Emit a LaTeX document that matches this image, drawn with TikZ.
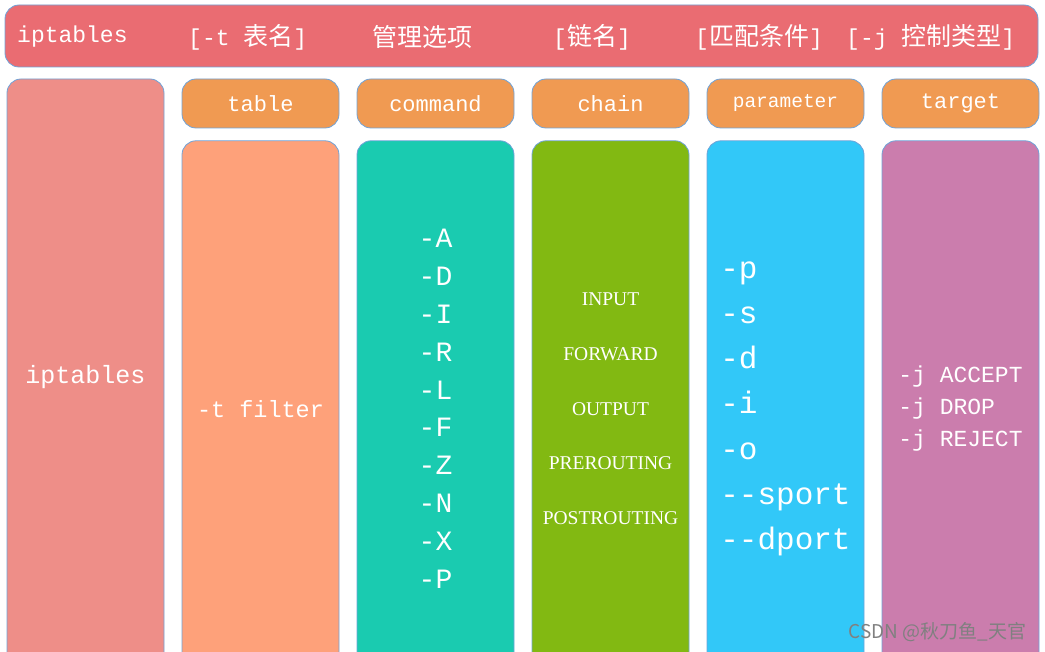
\documentclass[tikz,border=0pt]{standalone}
\usepackage{fontspec}
\setmainfont{Liberation Serif}
\setmonofont{Liberation Mono}
\newfontfamily\cjk{Noto Sans CJK SC}
\usetikzlibrary{positioning}
\definecolor{cEdge}{HTML}{6FA3D8}
\definecolor{cBar}{HTML}{EA6C72}
\definecolor{cRoot}{HTML}{EE8E88}
\definecolor{cHead}{HTML}{F09A52}
\definecolor{cTable}{HTML}{FEA17A}
\definecolor{cCmd}{HTML}{1ACBB0}
\definecolor{cChain}{HTML}{82B912}
\definecolor{cParam}{HTML}{32C8F8}
\definecolor{cTarget}{HTML}{CB7DAD}

\begin{document}
\begin{tikzpicture} [x=1pt,y=-1pt,node distance=17.2pt,
	box/.style={draw=cEdge,line width=0.8pt,rounded corners=14pt,minimum width=157pt,text=white,inner sep=0pt},
	pill/.style={box,fill=cHead,minimum height=49pt,font=\ttfamily\fontsize{22}{22}\selectfont},
	col/.style={box,minimum height=536pt,align=center,below=12pt of #1},
	bartext/.style={anchor=west,text=white,inner sep=0pt,font=\ttfamily\fontsize{23}{23}\selectfont}]
	\useasboundingbox (0,0) rectangle (1045,652);
	\clip (0,0) rectangle (1045,652);
	% top line
	\node[box, fill=cBar, minimum width=1033pt, minimum height=62pt] (bar) at (521.5,36) {};
	\node[bartext] (n1) at (17,37) {iptables};
	\node[bartext] (n2) at (188,37) {[-t {\cjk\fontsize{25}{25}\selectfont 表名}]};
	\node[bartext] (n3) at (372,37) {\cjk\fontsize{25}{25}\selectfont 管理选项};
	\node[bartext] (n4) at (553,37) {[{\cjk\fontsize{25}{25}\selectfont 链名}]};
	\node[bartext] (n5) at (695,37) {[{\cjk\fontsize{25}{25}\selectfont 匹配条件}]};
	\node[bartext] (n6) at (846,37) {[-j {\cjk\fontsize{25}{25}\selectfont 控制类型}]};
	
	% headers
	\node[box, fill=cRoot, minimum height=596pt, font=\ttfamily\fontsize{25}{25}\selectfont] (q0) at (85.5,377) {iptables};
	\node[pill] (h1) at (260.5,103.5) {table};
	\node[pill, right=of h1] (h2) {command};
	\node[pill, right=of h2] (h3) {chain};
	\node[pill, right=of h3, font=\ttfamily\fontsize{19.5}{19.5}\selectfont] (h4) {parameter};
	\node[pill, right=of h4] (h5) {target};
	
	% columns
	\node[col=h1, fill=cTable, font=\ttfamily\fontsize{23.5}{23.5}\selectfont] (q1) {-t filter};
	\node[col=h2, fill=cCmd, font=\ttfamily\fontsize{28}{37.9}\selectfont] (q2)
	{-A\\-D\\-I\\-R\\-L\\-F\\-Z\\-N\\-X\\-P};
	\node[col=h3, fill=cChain, font=\fontsize{19.5}{54.75}\selectfont] (q3)
	{INPUT\\FORWARD\\OUTPUT\\PREROUTING\\POSTROUTING};
	\node[col=h4, fill=cParam, align=left, font=\ttfamily\fontsize{31}{45.2}\selectfont] (q4)
	{-p\\-s\\-d\\-i\\-o\\--sport\\--dport};
	\node[col=h5, fill=cTarget, align=left, font=\ttfamily\fontsize{23}{32}\selectfont] (q5)
	{-j ACCEPT\\-j DROP\\-j REJECT};
	
	\node[anchor=east, text=gray, font=\cjk\fontsize{19}{19}\selectfont] (wm) at (1030,632) {CSDN @秋刀鱼\_天官};
\end{tikzpicture}
\end{document}
